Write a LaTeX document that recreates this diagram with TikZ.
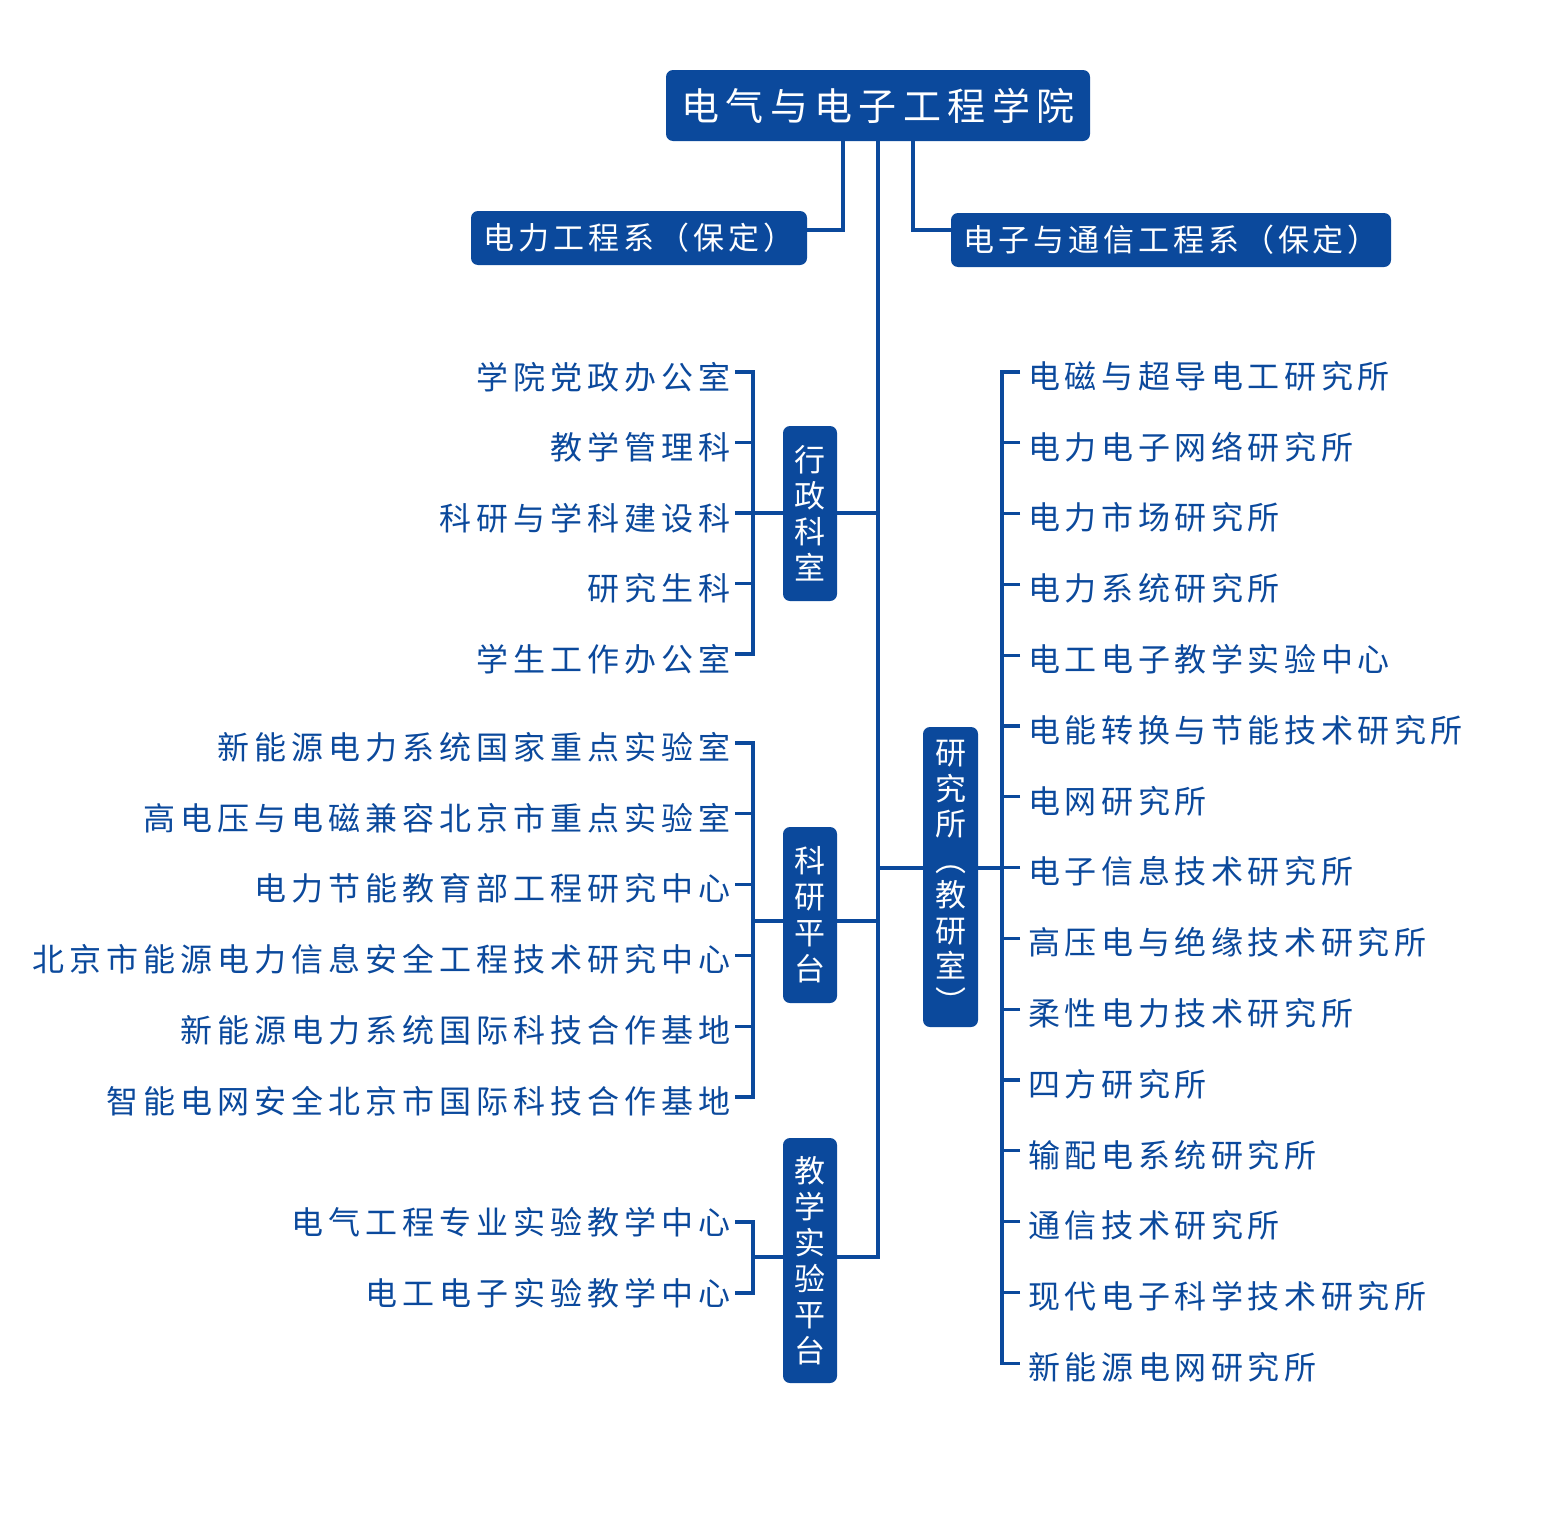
\documentclass[tikz,border=0pt]{standalone}
\usepackage{fontspec}
\setmainfont{Noto Sans CJK SC}
\usetikzlibrary{backgrounds}
\definecolor{ublue}{RGB}{11,73,156}
\makeatletter
\newcommand\spaced[2][4.7pt]{\def\sp@gap{#1}\sp@i#2\sp@end}
\def\sp@i#1#2\sp@end{#1\ifx\relax#2\relax\else\hspace{\sp@gap}\sp@i#2\sp@end\fi}
\newcommand\spacedx[2][4.7pt]{\def\sp@gap{#1}\expandafter\sp@i#2\sp@end}
\makeatother
\begin{document}
\begin{tikzpicture}[x=1pt,y=-1pt,
  box/.style={fill=ublue, text=white, rounded corners=7pt, inner sep=0pt, align=center},
  vbox/.style={box, minimum width=54pt, font=\fontsize{31}{36}\selectfont},
  item/.style={text=ublue, font=\fontsize{32}{36}\selectfont, inner ysep=0pt},
  litem/.style={item, anchor=east, inner xsep=4pt},
  ritem/.style={item, anchor=west, inner xsep=8pt},
  conn/.style={draw=ublue, line width=3.2pt}]
\useasboundingbox (0,0) rectangle (1559,1531);

% top boxes
\node[box, minimum width=424pt, minimum height=71pt, font=\fontsize{38}{40}\selectfont] (title) at (878,105.5) {\spaced[6.5pt]{电气与电子工程学院}};
\node[box, minimum width=336pt, minimum height=54pt, font=\fontsize{31}{34}\selectfont] (dep1) at (639,238) {\spaced[4pt]{电力工程系（保定）}};
\node[box, minimum width=440pt, minimum height=54pt, font=\fontsize{31}{34}\selectfont] (dep2) at (1171,240) {\spaced[4pt]{电子与通信工程系（保定）}};

% vertical boxes
\node[vbox, minimum height=175pt] (admin) at (810,513.5) {行\\政\\科\\室};
\node[vbox, minimum height=176pt] (sci) at (810,915) {科\\研\\平\\台};
\node[vbox, minimum height=245pt] (teach) at (810,1260.5) {教\\学\\实\\验\\平\\台};
\node[vbox, minimum width=55pt, minimum height=300pt, font=\fontsize{31}{35.5}\selectfont] (res) at (950.5,877) {研\\究\\所\\︵\\教\\研\\室\\︶};

% left lists
\foreach \t [count=\i] in {学院党政办公室,教学管理科,科研与学科建设科,研究生科,学生工作办公室}
  \node[litem] (a\i) at (735,{372+70.5*(\i-1)+5}) {\spacedx[5pt]{\t}};
\foreach \t [count=\i] in {新能源电力系统国家重点实验室,高电压与电磁兼容北京市重点实验室,电力节能教育部工程研究中心,北京市能源电力信息安全工程技术研究中心,新能源电力系统国际科技合作基地,智能电网安全北京市国际科技合作基地}
  \node[litem] (s\i) at (735,{743+70.8*(\i-1)+4}) {\spacedx[5pt]{\t}};
\foreach \t [count=\i] in {电气工程专业实验教学中心,电工电子实验教学中心}
  \node[litem] (e\i) at (735,{1222+71*(\i-1)}) {\spacedx[5pt]{\t}};

% right list
\foreach \t [count=\i] in {电磁与超导电工研究所,电力电子网络研究所,电力市场研究所,电力系统研究所,电工电子教学实验中心,电能转换与节能技术研究所,电网研究所,电子信息技术研究所,高压电与绝缘技术研究所,柔性电力技术研究所,四方研究所,输配电系统研究所,通信技术研究所,现代电子科学技术研究所,新能源电网研究所}
  \node[ritem] (r\i) at (1020,{372+70.8*(\i-1)+4}) {\spacedx[4.6pt]{\t}};

% junction coordinates
\coordinate (tA) at (878,513);
\coordinate (tS) at (878,921);
\coordinate (tR) at (878,868);
\coordinate (tT) at (878,1257);
\coordinate (bA) at (753,513);
\coordinate (bS) at (753,921);
\coordinate (bT) at (753,1257);
\coordinate (bR) at (1002,868);

\begin{scope}[on background layer]
  % trunk and top branches
  \draw[conn] (title.south) -- (tT) -- (tT -| teach.east);
  \draw[conn] ([xshift=-35pt]title.south) |- ([yshift=8pt]dep1.east);
  \draw[conn] ([xshift=35pt]title.south) |- ([yshift=10pt]dep2.west);
  % admin
  \draw[conn] (tA) -- (tA -| admin.east);
  \draw[conn] (bA) -- (bA -| admin.west);
  \draw[conn] ([yshift=5pt]a1.east) -- ++(18,0) |- ([yshift=5pt]a5.east);
  \foreach \i in {2,3,4} \draw[conn] ([yshift=5pt]a\i.east) -- ++(18,0);
  % science platform
  \draw[conn] (tS) -- (tS -| sci.east);
  \draw[conn] (bS) -- (bS -| sci.west);
  \draw[conn] ([yshift=4pt]s1.east) -- ++(18,0) |- ([yshift=4pt]s6.east);
  \foreach \i in {2,...,5} \draw[conn] ([yshift=4pt]s\i.east) -- ++(18,0);
  % teaching platform
  \draw[conn] (bT) -- (bT -| teach.west);
  \draw[conn] (e1.east) -- ++(18,0) |- (e2.east);
  % research institutes
  \draw[conn] (tR) -- (tR -| res.west);
  \draw[conn] (tR -| res.east) -- (bR);
  \draw[conn] ([yshift=4pt]r1.west) -- ++(-18,0) |- ([yshift=4pt]r15.west);
  \foreach \i in {2,...,14} \draw[conn] ([yshift=4pt]r\i.west) -- ++(-18,0);
\end{scope}
\end{tikzpicture}
\end{document}
